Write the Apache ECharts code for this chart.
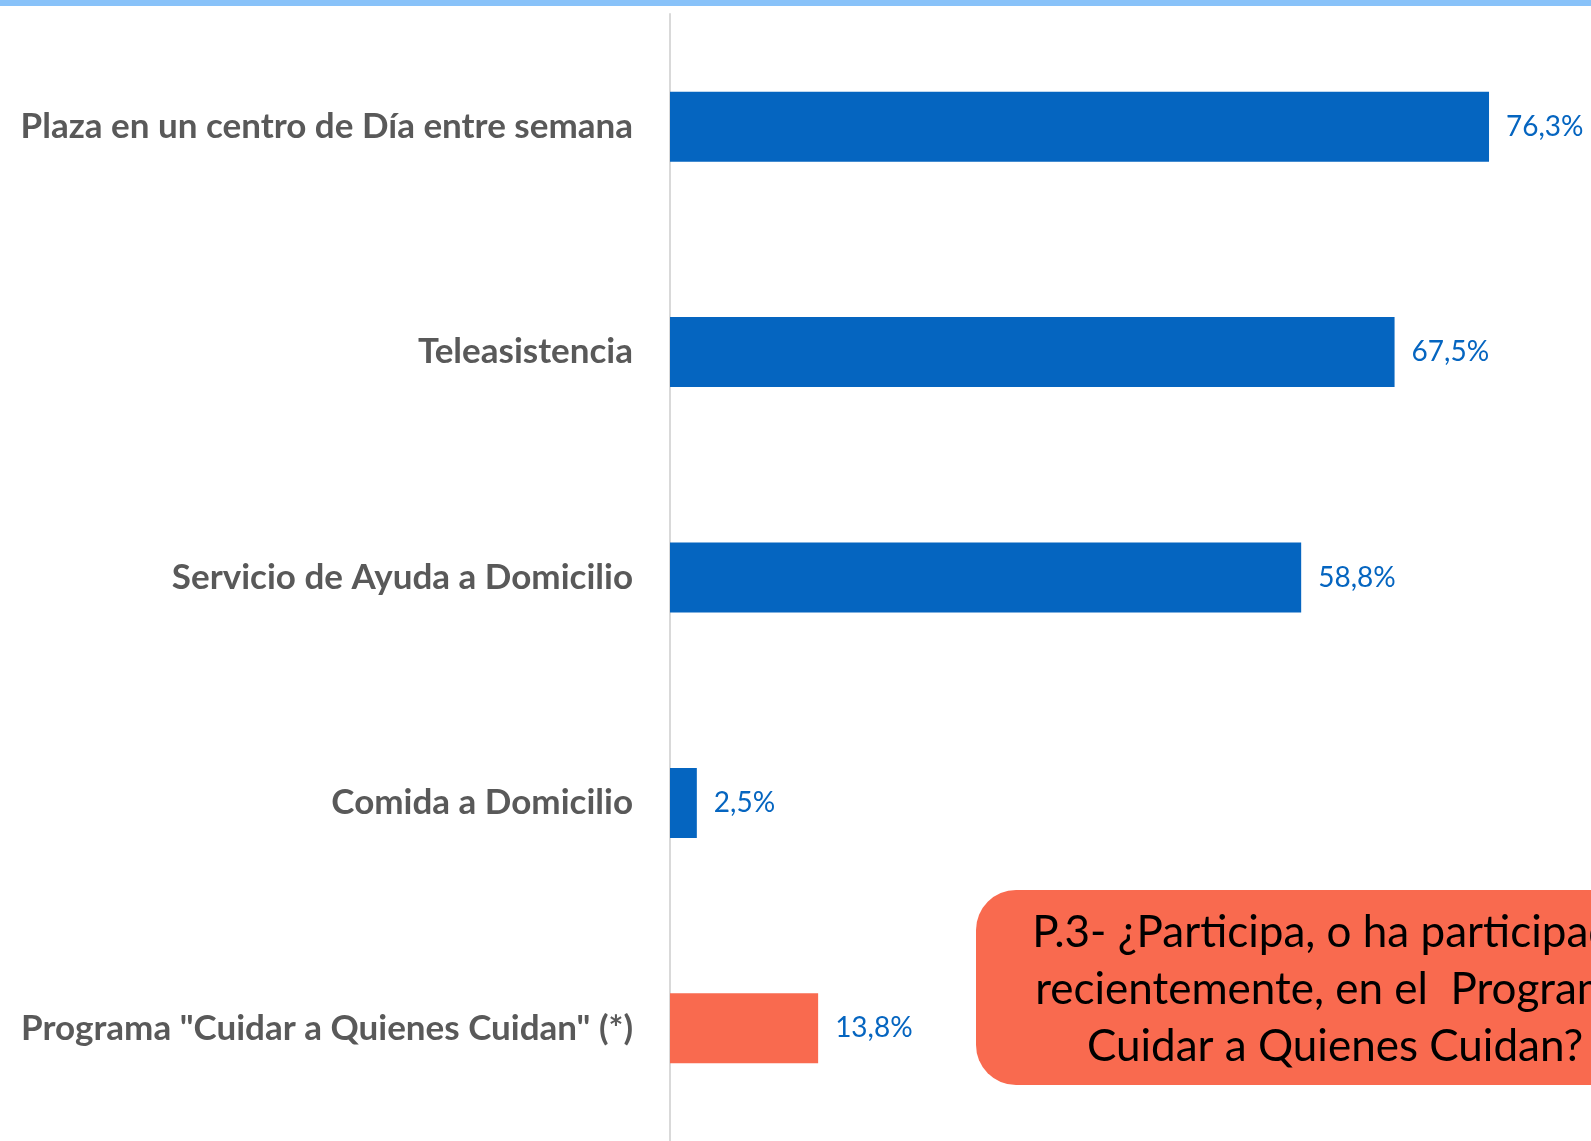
<!DOCTYPE html>
<html>
<head>
<meta charset="utf-8">
<script src="https://cdn.jsdelivr.net/npm/echarts@6/dist/echarts.min.js"></script>
<style>
  html, body { margin: 0; padding: 0; background: #fff; }
  #chart { width: 1591px; height: 1141px; }
</style>
</head>
<body>
<div id="chart"></div>
<script>
(function() {

    // chart data
    const categories = [
        'Plaza en un centro de Día entre semana',
        'Teleasistencia',
        'Servicio de Ayuda a Domicilio',
        'Comida a Domicilio',
        'Programa "Cuidar a Quienes Cuidan" (*)'
    ];
    const values = [76.3, 67.5, 58.8, 2.5, 13.8];
    const barColors = ['#0565C0', '#0565C0', '#0565C0', '#0565C0', '#F96A4F'];
    const questionLines = [
        'P.3- ¿Participa, o ha participado',
        'recientemente, en el  Programa',
        'Cuidar a Quienes Cuidan?'
    ];

    const chart = echarts.init(document.getElementById('chart'));

    let option = {
        animation: false,
        textStyle: {
            fontFamily: 'Lato'
        },
        grid: {
            left: 670,
            top: 14,
            right: 0,
            height: 1130
        },
        xAxis: {
            type: 'value',
            min: 0,
            max: 85.8,
            show: false
        },
        yAxis: {
            type: 'category',
            inverse: true,
            data: categories,
            axisTick: { show: false },
            axisLine: {
                lineStyle: { color: '#D9D9D9', width: 2 }
            },
            axisLabel: {
                color: '#595959',
                fontWeight: 'bold',
                fontSize: 35,
                margin: 37
            }
        },
        series: [{
            type: 'bar',
            barWidth: 70,
            data: values.map((v, i) => ({
                value: v,
                itemStyle: { color: barColors[i] }
            })),
            label: {
                show: true,
                position: 'right',
                distance: 17,
                color: '#0565C0',
                fontSize: 28,
                formatter: (p) => p.value.toFixed(1).replace('.', ',') + '%'
            }
        }],
        graphic: [
            {
                type: 'rect',
                left: 0,
                top: 0,
                shape: { width: 1591, height: 6 },
                style: { fill: '#88C2F9' }
            },
            {
                type: 'rect',
                left: 976,
                top: 890,
                shape: { width: 718, height: 195, r: 40 },
                style: { fill: '#F96A4F' }
            },
            {
                type: 'text',
                x: 1335,
                y: 990,
                style: {
                    text: questionLines.join('\n'),
                    fill: '#000',
                    font: '44px Lato',
                    lineHeight: 57,
                    align: 'center',
                    verticalAlign: 'middle'
                }
            }
        ]
    };

    chart.setOption(option);
})();
</script>
</body>
</html>
